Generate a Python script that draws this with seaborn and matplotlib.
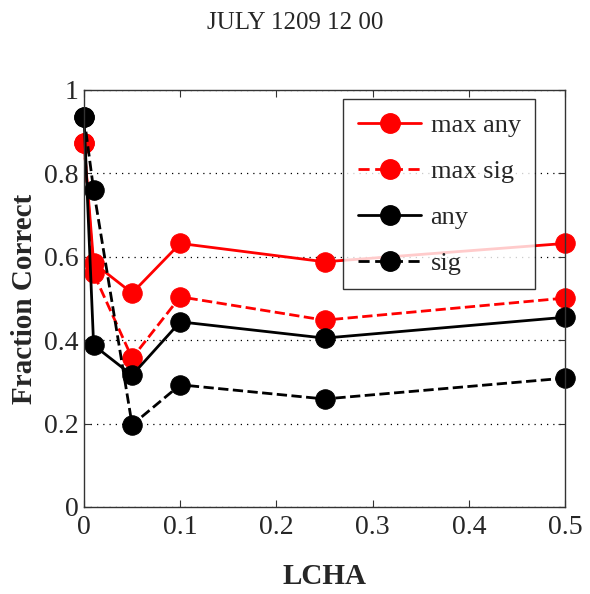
import pandas as pd
import seaborn as sns
from matplotlib import pyplot as plt
from matplotlib.lines import Line2D

# data
lcha = [0, 0.01, 0.05, 0.1, 0.25, 0.5]
max_any = [0.873, 0.585, 0.513, 0.632, 0.588, 0.632]
max_sig = [0.873, 0.56, 0.357, 0.504, 0.448, 0.501]
any_ = [0.935, 0.388, 0.316, 0.444, 0.405, 0.455]
sig = [0.935, 0.760, 0.197, 0.293, 0.259, 0.309]
names = ['max any', 'max sig', 'any', 'sig']
colors = ['red', 'red', 'black', 'black']
styles = ['-', '--', '-', '--']

sns.set_style('white')
plt.rcParams['font.family'] = ['Liberation Serif', 'DejaVu Serif']

df = pd.DataFrame({'LCHA': lcha, 'max any': max_any, 'max sig': max_sig,
                   'any': any_, 'sig': sig})

fig = plt.figure(figsize=(5.9, 5.94), dpi=100)
ax = fig.add_axes([0.1424, 0.1465, 0.8152, 0.702])

handles = []
for name, col, ls in zip(names, colors, styles):
    sns.lineplot(data=df, x='LCHA', y=name, ax=ax, color=col, linestyle=ls,
                 marker='o', markersize=14, markeredgecolor=col, linewidth=2,
                 dashes=False if ls == '-' else (4, 2), clip_on=False)
    handles.append(Line2D([], [], color=col, linestyle=ls, linewidth=2,
                          marker='o', markersize=14, dashes=(4, 2) if ls == '--' else (None, None)))

ax.set_xlim(0, 0.5)
ax.set_ylim(0, 1)
ax.set_xticks([0, 0.1, 0.2, 0.3, 0.4, 0.5])
ax.set_xticklabels(['0', '0.1', '0.2', '0.3', '0.4', '0.5'])
ax.set_yticks([0, 0.2, 0.4, 0.6, 0.8, 1])
ax.set_yticklabels(['0', '0.2', '0.4', '0.6', '0.8', '1'])
ax.yaxis.grid(True, color='black', linestyle=(0, (1, 4)), linewidth=0.9)
ax.tick_params(direction='in', length=5, top=True, right=True, labelsize=20,
               bottom=True, left=True, pad=6, color='#333333')
ax.tick_params(axis='y', pad=4)
for s in ax.spines.values():
    s.set_color('#333333')
    s.set_linewidth(1)

ax.set_xlabel('LCHA', fontsize=21, fontweight='bold', labelpad=16)
ax.set_ylabel('Fraction Correct', fontsize=21, fontweight='bold', labelpad=4)
fig.suptitle('JULY 1209 12 00', fontsize=18, y=0.98)

leg = ax.legend(handles, names, loc='upper right', bbox_to_anchor=(0.938, 0.978),
                borderaxespad=0, fontsize=19, frameon=True, fancybox=False,
                edgecolor='black', handlelength=2.4, labelspacing=0.85,
                handletextpad=0.35, borderpad=0.55)
leg.get_frame().set_linewidth(1)

plt.savefig('out.png', dpi=100)
